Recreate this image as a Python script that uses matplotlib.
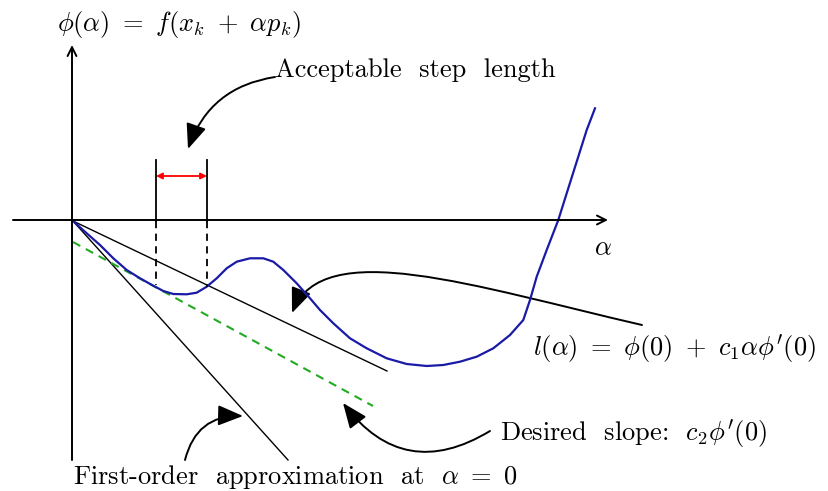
import matplotlib
matplotlib.use("Agg")
import matplotlib.pyplot as plt
from matplotlib.patches import FancyArrowPatch
from matplotlib.path import Path

plt.rcParams['mathtext.fontset'] = 'cm'
plt.rcParams['font.family'] = ['cmr10', 'DejaVu Serif']

# phi(alpha) (origin at the axes crossing)
alpha_curve = [0, 13.7, 27, 40.3, 53.7, 67, 80.3, 90.3, 100.3, 113.7, 123.7, 133.7,
               143.7, 153.7, 163.7, 177, 190.3, 200.3, 210.3, 223.7, 237, 247, 260.3,
               277, 293.7, 313.7, 333.7, 353.7, 370.3, 387, 403.7, 420.3, 437, 450.3,
               457, 463.7, 473.7, 485.3, 493.7, 503.7, 513.7, 522]
phi_curve = [0, -12.3, -24, -37.3, -49, -57.3, -64.7, -70, -73, -73.3, -71.7, -65.7,
             -57.3, -47.3, -40.7, -37.3, -37.3, -40.7, -49, -62.3, -77.3, -89, -102.3,
             -117.3, -127.3, -137.3, -143, -145, -144, -140.7, -135.7, -127.3, -114, -99,
             -79, -55.7, -29, 1, 27.7, 59.3, 91, 112.7]

# straight lines from the origin: l(alpha), first-order tangent, desired slope (green)
l_alpha = [0, 314]
l_phi = [0, -150]
tangent_alpha = [0, 215]
tangent_phi = [0, -239]
slope_alpha = [0, 300]
slope_phi = [-21, -185]

# acceptable interval end points
interval = [83, 134]
interval_phi = [-64, -66]


def main():
    fig = plt.figure(figsize=(8.29, 4.91), dpi=100)
    ax = fig.add_axes([0, 0, 1, 1])
    ax.set_xlim(-73, 756)
    ax.set_ylim(-270, 221)
    ax.axis('off')

    # axes with open arrow heads
    ax.annotate("", xy=(-1, 176), xytext=(-1, -239),
                arrowprops=dict(arrowstyle='->', lw=1.4, color='black',
                                shrinkA=0, shrinkB=0, mutation_scale=16))
    ax.annotate("", xy=(535, 1), xytext=(-60, 1),
                arrowprops=dict(arrowstyle='->', lw=1.4, color='black',
                                shrinkA=0, shrinkB=0, mutation_scale=16))

    ax.plot(l_alpha, l_phi, color='black', lw=1.0)
    ax.plot(tangent_alpha, tangent_phi, color='black', lw=1.0)
    ax.plot(slope_alpha, slope_phi, color='#22aa22', lw=1.5, ls=(0, (4, 3)))
    ax.plot(alpha_curve, phi_curve, color='#1a1aa6', lw=1.6)

    # interval markers
    for a, p in zip(interval, interval_phi):
        ax.plot([a, a], [0, 61], color='black', lw=1.3)
        ax.plot([a, a], [0, p], color='black', lw=1.3, ls=(0, (4, 3)))
    ax.annotate("", xy=(interval[1], 45), xytext=(interval[0], 45),
                arrowprops=dict(arrowstyle='<|-|>', lw=1.3, color='red',
                                shrinkA=0, shrinkB=0, mutation_scale=9))

    # text labels
    fs = 19
    ax.text(-16, 196, r'$\phi(\alpha)\ =\ f(x_k\ +\ \alpha p_k)$', fontsize=fs,
            ha='left', va='center')
    ax.text(530, -27, r'$\alpha$', fontsize=fs, ha='center', va='center')
    ax.text(202, 151, 'Acceptable  step  length', fontsize=fs, ha='left', va='center')
    ax.text(460, -128, r"$l(\alpha)\ =\ \phi(0)\ +\ c_1\alpha\phi'(0)$", fontsize=fs,
            ha='left', va='center')
    ax.text(427, -213, r"Desired  slope:  $c_2\phi'(0)$", fontsize=fs,
            ha='left', va='center')
    ax.text(0, -256, r'First-order  approximation  at  $\alpha\ =\ 0$', fontsize=fs,
            ha='left', va='center')

    head = dict(color='black', lw=1.4, shrinkA=0, shrinkB=0,
                arrowstyle='-|>,head_length=1.1,head_width=0.45', mutation_scale=14)
    ax.annotate("", xy=(115, 72), xytext=(202, 144),
                arrowprops=dict(head, connectionstyle='arc3,rad=0.3'))
    ax.annotate("", xy=(270, -182), xytext=(417, -210),
                arrowprops=dict(head, connectionstyle='arc3,rad=-0.45'))
    ax.annotate("", xy=(170, -195), xytext=(112, -239),
                arrowprops=dict(head, connectionstyle='arc3,rad=-0.4'))

    # curved pointer from the l(alpha) label to the line
    pointer = Path([(569, -104), (400, -65), (250, -15), (219, -92)],
                   [Path.MOVETO, Path.CURVE4, Path.CURVE4, Path.CURVE4])
    ax.add_patch(FancyArrowPatch(path=pointer, **head))

    fig.savefig('out.png', dpi=100)


if __name__ == "__main__":
    main()
